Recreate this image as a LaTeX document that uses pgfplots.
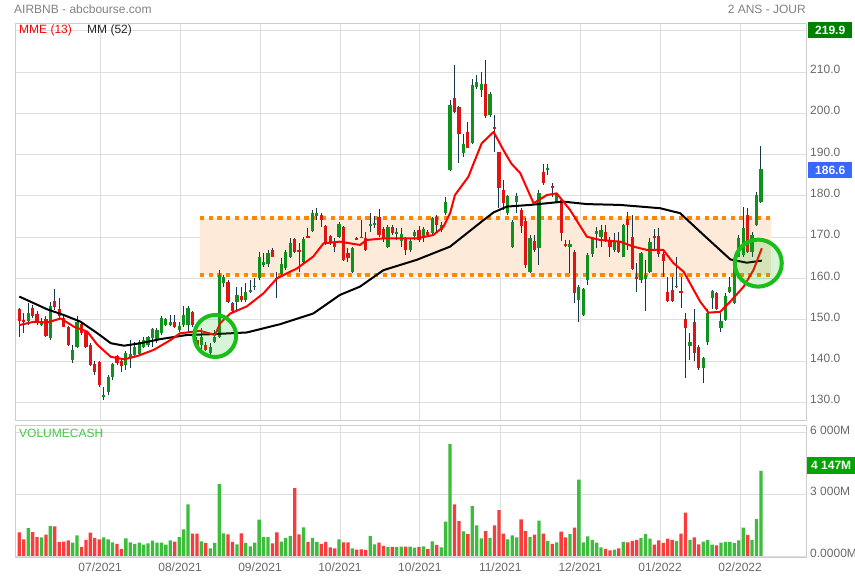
\documentclass[border=0pt]{standalone}
\usepackage{pgfplots}
\pgfplotsset{compat=1.18}
\usepackage{pgfplotstable}
\usepackage{fontspec}
\setmainfont{Liberation Sans}

\definecolor{gridc}{RGB}{222,222,222}
\definecolor{framec}{RGB}{205,205,205}
\definecolor{tickc}{RGB}{105,105,105}
\definecolor{headc}{RGB}{130,130,130}
\definecolor{wick}{RGB}{25,55,75}
\definecolor{cup}{RGB}{15,145,30}
\definecolor{cdown}{RGB}{225,20,20}
\definecolor{vup}{RGB}{60,190,60}
\definecolor{vdown}{RGB}{250,60,60}
\definecolor{band}{RGB}{253,234,216}
\definecolor{bandline}{RGB}{255,136,0}
\definecolor{ring}{RGB}{25,190,25}
\definecolor{boxgreen}{RGB}{0,128,0}
\definecolor{boxblue}{RGB}{55,105,255}
\definecolor{boxvol}{RGB}{0,165,0}
\definecolor{volc}{RGB}{70,200,70}

% daily candles: index, open, high, low, close, volume (M)
\pgfplotstableread{
i o h l c v
0 152.5 152.8 145.9 149.7 1150
1 149.9 151.6 146.7 149.5 810
2 149.8 154.0 148.7 151.7 1361
3 152.8 153.6 150.4 150.8 1166
4 151.3 152.0 148.7 149.5 923
5 148.7 150.4 148.5 149.7 907
6 150.1 150.8 145.9 146.1 1037
7 145.5 154.4 145.1 153.2 1458
8 154.6 157.4 152.4 153.0 1442
9 152.5 155.2 150.4 150.8 680
10 150.4 151.2 148.2 148.3 697
11 148.2 148.5 143.7 143.9 761
12 140.3 143.9 139.6 142.7 648
13 143.3 150.8 143.1 149.5 1004
14 149.0 149.3 146.3 146.7 437
15 147.1 147.5 143.1 143.3 778
16 143.9 144.3 138.9 139.1 1134
17 139.3 139.9 136.6 137.4 875
18 139.7 139.9 133.8 134.2 810
19 131.2 133.8 130.6 131.8 907
20 132.6 136.6 131.8 136.1 810
21 136.2 139.5 135.4 139.2 664
22 141.1 141.5 139.1 139.5 583
23 139.9 140.3 137.4 138.7 340
24 139.1 142.3 137.8 141.9 859
25 140.7 145.1 138.2 141.7 664
26 141.5 144.7 141.1 143.5 583
27 141.7 145.1 141.4 144.5 648
28 143.5 145.9 143.1 145.1 551
29 143.9 146.1 143.5 145.7 616
30 145.5 147.9 143.5 147.7 745
31 145.0 148.1 144.3 147.5 648
32 146.7 150.8 146.3 150.4 648
33 148.7 150.4 148.5 150.1 551
34 148.7 151.2 148.5 149.5 761
35 149.5 151.2 147.9 148.3 697
36 147.5 149.5 147.1 148.5 923
37 148.7 153.2 148.3 151.2 1296
38 148.7 153.2 146.7 152.8 2511
39 151.9 152.2 148.3 148.7 1085
40 145.1 145.9 143.5 143.9 1085
41 143.9 147.9 142.7 145.9 713
42 143.9 144.7 142.3 142.7 632
43 141.9 144.3 141.5 143.5 373
44 144.7 147.5 144.3 145.9 632
45 145.9 162.0 145.5 160.8 3500
46 158.8 160.8 158.0 160.3 1102
47 159.2 159.6 154.0 154.4 1053
48 154.1 154.4 151.7 152.2 680
49 154.4 158.0 151.9 156.0 567
50 155.7 158.0 154.4 154.8 1102
51 154.8 158.8 154.4 156.8 632
52 156.6 159.6 156.4 157.2 470
53 158.0 160.0 157.2 158.1 648
54 160.0 166.5 159.6 165.1 1766
55 163.2 166.1 162.8 164.0 923
56 163.6 166.9 162.8 166.2 923
57 167.0 167.3 165.1 165.3 616
58 160.1 161.6 155.2 160.0 1150
59 161.1 164.9 160.8 163.5 697
60 162.4 166.9 162.0 166.5 875
61 165.3 169.7 164.9 168.5 972
62 169.5 169.7 166.2 166.5 3305
63 166.9 168.5 161.6 166.5 1053
64 164.0 170.1 163.8 169.5 1393
65 170.3 172.1 169.7 169.9 680
66 171.6 176.6 171.3 175.8 875
67 175.1 177.0 174.1 175.9 680
68 175.3 175.8 172.4 174.1 583
69 172.7 172.9 168.1 168.5 680
70 170.3 170.5 168.1 168.5 421
71 168.9 169.7 166.5 167.7 373
72 170.1 173.7 169.7 173.3 810
73 172.5 172.7 164.3 164.5 664
74 166.1 167.3 164.0 164.9 664
75 161.6 167.7 161.2 167.3 373
76 169.8 170.1 169.3 169.5 308
77 170.1 174.1 169.7 169.9 324
78 169.9 171.3 166.6 166.9 292
79 172.7 175.8 171.3 173.1 972
80 172.9 175.1 172.1 173.5 567
81 174.9 176.7 170.1 170.5 648
82 171.9 172.5 168.9 169.5 486
83 167.7 172.9 167.3 172.5 437
84 172.5 172.9 170.5 170.9 437
85 170.9 172.1 169.3 171.3 437
86 169.1 172.1 167.7 170.7 454
87 169.7 170.1 165.7 166.9 454
88 166.9 169.7 166.5 169.1 454
89 170.3 171.7 169.3 171.3 405
90 171.7 172.7 168.9 169.3 437
91 170.1 172.5 168.9 171.9 470
92 171.3 171.7 170.1 170.5 340
93 170.9 174.9 170.5 174.6 713
94 174.9 175.4 171.3 172.9 535
95 171.7 173.7 171.3 172.9 421
96 175.8 179.8 175.4 178.6 1669
97 186.2 203.2 186.1 202.0 5443
98 203.6 211.7 200.0 200.4 2511
99 201.6 201.7 187.9 195.0 1701
100 190.3 195.1 189.5 192.5 1199
101 195.5 197.9 191.5 191.7 1069
102 192.7 208.2 192.5 206.8 2430
103 206.4 209.2 206.0 207.5 1490
104 205.6 210.1 204.0 207.2 859
105 207.2 212.9 198.8 199.3 1215
106 199.5 205.1 199.2 204.6 875
107 196.7 199.6 190.7 196.3 1490
108 190.5 190.7 177.0 181.8 2236
109 181.4 183.8 176.6 178.3 1085
110 175.8 180.2 175.4 180.0 810
111 167.7 174.1 167.3 173.7 1004
112 178.6 180.8 175.8 180.0 907
113 176.6 177.0 171.1 172.7 1782
114 174.0 174.6 162.4 163.2 1215
115 161.6 170.5 161.4 169.7 923
116 169.1 170.5 166.5 166.9 1037
117 167.3 181.4 163.3 180.8 1717
118 185.8 187.7 182.6 183.2 1085
119 186.3 187.7 185.0 186.7 729
120 182.4 183.0 179.8 181.8 583
121 178.6 180.8 178.2 180.4 664
122 179.0 179.4 169.1 171.1 1183
123 168.3 169.3 167.7 168.1 907
124 167.7 169.3 161.2 168.3 1069
125 166.5 166.9 154.0 156.4 1377
126 154.8 158.4 149.5 158.0 3710
127 151.2 157.6 150.9 157.4 664
128 159.6 166.1 158.4 165.7 956
129 165.9 170.0 165.3 169.5 778
130 170.7 172.5 167.3 171.5 648
131 170.0 172.9 167.7 171.7 421
132 171.3 172.9 168.9 169.3 340
133 169.3 170.0 165.3 167.5 275
134 166.9 170.9 166.5 168.8 308
135 168.8 171.3 166.1 166.5 373
136 165.3 173.3 165.1 172.9 680
137 174.3 176.2 166.9 172.9 664
138 170.0 175.4 162.0 162.3 729
139 160.4 163.7 156.6 159.8 778
140 159.6 166.5 159.0 166.1 875
141 159.8 164.5 152.2 160.8 1069
142 161.6 169.7 161.2 168.7 842
143 170.3 171.9 166.9 169.7 551
144 170.3 172.1 165.3 165.9 761
145 165.9 166.5 160.4 164.1 632
146 156.8 160.4 154.4 154.6 842
147 157.2 160.4 154.4 154.6 778
148 157.9 165.3 157.6 158.2 729
149 156.9 160.4 152.8 156.6 1085
150 150.1 151.6 135.8 147.9 2106
151 143.7 146.7 140.3 144.6 778
152 149.5 152.5 139.9 142.0 907
153 143.5 143.9 137.8 138.2 567
154 138.2 141.0 134.6 140.6 697
155 144.7 152.7 143.9 151.7 778
156 155.3 157.3 152.7 157.0 551
157 156.4 156.8 152.3 152.7 518
158 147.9 151.5 147.1 149.7 648
159 149.9 156.4 149.8 155.7 680
160 156.8 160.3 156.5 158.0 680
161 154.0 163.0 153.8 162.7 632
162 165.3 170.5 165.1 169.9 761
163 165.7 177.4 165.3 172.1 1377
164 175.3 177.0 166.1 166.5 1021
165 166.5 171.3 165.3 170.5 778
166 172.9 181.0 172.7 180.2 1798
167 178.6 192.0 178.2 186.6 4147
}\ohlc

% MME (13)
\pgfplotstableread{
i p
0 148.7
3.3 149.5
6.3 149.3
9.3 150.3
12.3 148.3
15.3 147.1
17.6 143.9
20.6 141.0
23.6 140.4
26.6 141.2
30.3 142.7
34.1 145.1
36.2 146.7
40.7 147.3
44.1 146.3
45.2 149.1
47.5 151.5
51.2 153.2
55.0 156.4
58.0 160.0
60.2 161.2
62.5 162.4
66.2 165.3
68.5 168.5
72.2 168.9
76.7 168.1
78.2 169.3
82.0 169.7
89.5 169.7
93.2 170.5
95.5 172.5
97.0 175.8
98.1 180.2
101.1 184.6
104.1 192.7
106.8 195.5
109.0 191.1
110.8 187.8
112.8 185.5
115.8 178.2
118.8 180.2
121.0 180.6
124.0 176.6
127.8 170.1
130.8 169.3
135.3 168.9
138.3 167.7
141.3 166.9
145.0 166.9
147.3 163.7
149.6 161.6
153.3 154.4
155.2 151.7
157.8 151.9
160.1 154.4
163.1 158.0
165.3 162.0
167.2 167.3
}\mme

% MM (52)
\pgfplotstableread{
i p
0 155.6
6.3 152.5
10.1 151.1
13.8 149.5
17.6 146.7
20.6 144.3
23.6 143.7
27.3 144.3
31.8 145.3
37.8 146.3
43.7 146.5
51.2 146.9
58.7 148.9
66.2 151.5
72.2 156.0
76.7 158.0
82.0 162.0
89.5 164.5
97.0 167.7
104.5 174.1
106.8 176.0
109.8 177.4
115.0 177.8
122.5 178.6
127.8 178.0
135.3 177.8
144.3 177.0
148.8 175.8
154.1 170.5
160.1 164.6
163.8 163.8
167.2 164.3
}\mma

\pgfplotsset{
  chartbase/.style={
    scale only axis, width=791.7pt,
    xmin=-0.97, xmax=177.3,
    xtick={18.2,36.2,54.2,72.2,90.2,108.3,126.3,144.3,162.3},
    grid=major, major grid style={draw=gridc, line width=0.8pt},
    major tick length=0pt,
    axis line style={draw=framec, line width=0.8pt},
    tick label style={font=\fontsize{12}{14}\selectfont, text=tickc},
    yticklabel pos=right,
    yticklabel style={yshift=2.5pt},
  },
  candle/.style={draw=none, no markers, forget plot,
    error bars/.cd, y dir=both, y explicit, error mark=none},
}

\begin{document}
\begin{tikzpicture}
\useasboundingbox (0pt,0pt) rectangle (855pt,580pt);
\fill[white] (0pt,0pt) rectangle (855pt,580pt);

% price panel
\begin{axis}[chartbase, at={(15pt,160pt)}, anchor=south west, height=396.7pt,
  ymin=125.7, ymax=221.8,
  xticklabels={},
  ytick={130,140,...,220},
  yticklabels={130.0,140.0,150.0,160.0,170.0,180.0,190.0,200.0,210.0,{}},
]
\addplot[draw=none, fill=band, forget plot] coordinates {(40.7,160.9) (169.3,160.9) (169.3,174.7) (40.7,174.7)} -- cycle;
\addplot[bandline, line width=4.3pt, dash pattern=on 4.3pt off 4.4pt, forget plot] coordinates {(40.7,174.7) (169.3,174.7)};
\addplot[bandline, line width=4.3pt, dash pattern=on 4.3pt off 4.4pt, forget plot] coordinates {(40.7,160.9) (169.3,160.9)};

% wicks
\addplot[candle, error bar style={draw=wick, line width=1pt}]
  table[x=i, y expr={(\thisrow{h}+\thisrow{l})/2}, y error expr={(\thisrow{h}-\thisrow{l})/2}] {\ohlc};
% bodies, up days
\addplot[candle, error bar style={draw=cup, line width=3.2pt},
  /pgfplots/restrict expr to domain={\thisrow{c}-\thisrow{o}}{0:100}]
  table[x=i, y expr={(\thisrow{o}+\thisrow{c})/2}, y error expr={max(abs(\thisrow{c}-\thisrow{o})/2,0.15)}] {\ohlc};
% bodies, down days
\addplot[candle, error bar style={draw=cdown, line width=3.2pt},
  /pgfplots/restrict expr to domain={\thisrow{c}-\thisrow{o}}{-100:-0.001}]
  table[x=i, y expr={(\thisrow{o}+\thisrow{c})/2}, y error expr={max(abs(\thisrow{c}-\thisrow{o})/2,0.15)}] {\ohlc};

\addplot[black, line width=2pt, line join=round, no markers] table[x=i, y=p] {\mma};
\addplot[red, line width=2pt, line join=round, no markers] table[x=i, y=p] {\mme};

\addplot[only marks, mark=*, mark size=21pt,
  mark options={draw=ring, line width=4pt, fill=ring, fill opacity=0.17}]
  coordinates {(44.1,146.05)};
\addplot[only marks, mark=*, mark size=23.5pt,
  mark options={draw=ring, line width=4pt, fill=ring, fill opacity=0.17}]
  coordinates {(166.4,163.7)};
\end{axis}

% volume panel
\begin{axis}[chartbase, at={(15pt,23pt)}, anchor=south west, height=132pt,
  ymin=-50, ymax=6375,
  xticklabels={07/2021,08/2021,09/2021,10/2021,10/2021,11/2021,12/2021,01/2022,02/2022},
  xticklabel style={yshift=-2pt},
  ytick={0,3000,6000},
  yticklabels={0.0000M,3 000M,6 000M},
]
\addplot[ybar, bar width=3.3pt, bar shift=0pt, draw=none, fill=vup,
  restrict expr to domain={\thisrow{c}-\thisrow{o}}{0:100}]
  table[x=i, y=v] {\ohlc};
\addplot[ybar, bar width=3.3pt, bar shift=0pt, draw=none, fill=vdown,
  restrict expr to domain={\thisrow{c}-\thisrow{o}}{-100:-0.001}]
  table[x=i, y=v] {\ohlc};
\end{axis}

% texts around the panels
\node[anchor=west, inner sep=0, text=headc, font=\fontsize{12}{14}\selectfont] at (14pt,571pt) {AIRBNB - abcbourse.com};
\node[anchor=east, inner sep=0, text=headc, font=\fontsize{12}{14}\selectfont] at (806pt,571pt) {2 ANS - JOUR};
\node[anchor=west, inner sep=0, text=red, font=\fontsize{12}{14}\selectfont] at (19pt,550pt) {MME (13)};
\node[anchor=west, inner sep=0, text=black!85, font=\fontsize{12}{14}\selectfont] at (87pt,550pt) {MM (52)};
\node[anchor=west, inner sep=0, text=volc, font=\fontsize{12}{14}\selectfont] at (19pt,147pt) {VOLUMECASH};

\node[anchor=north west, fill=boxgreen, text=white, inner sep=0, minimum width=44pt, minimum height=16pt,
  font=\fontsize{12}{14}\selectfont\bfseries] at (808pt,558pt) {219.9};
\node[anchor=north west, fill=boxblue, text=white, inner sep=0, minimum width=44pt, minimum height=16pt,
  font=\fontsize{12}{14}\selectfont\bfseries] at (808pt,418.3pt) {186.6};
\node[anchor=north west, fill=boxvol, text=white, inner sep=0, minimum width=48pt, minimum height=17pt,
  font=\fontsize{12}{14}\selectfont\bfseries] at (807pt,123.5pt) {4 147M};
\end{tikzpicture}
\end{document}
